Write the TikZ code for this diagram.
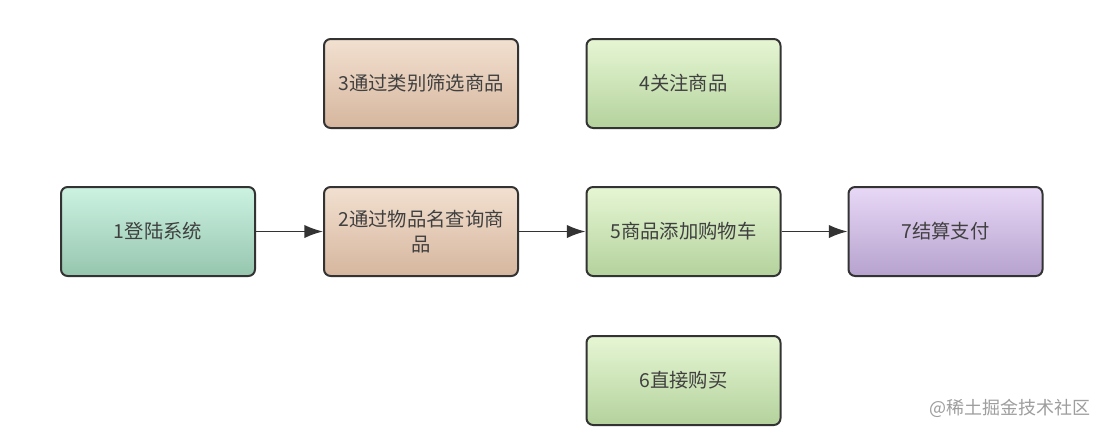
\documentclass[tikz,border=0pt]{standalone}
\usepackage{fontspec}
\newfontfamily\cjk{Noto Sans CJK SC}
\usetikzlibrary{arrows.meta}
\definecolor{tealtop}{HTML}{CCF2E2}
\definecolor{tealbot}{HTML}{96C6AE}
\definecolor{sandtop}{HTML}{F2E0D0}
\definecolor{sandbot}{HTML}{D6B69E}
\definecolor{leaftop}{HTML}{E6F6D4}
\definecolor{leafbot}{HTML}{B4D29C}
\definecolor{lilactop}{HTML}{E8D8F6}
\definecolor{lilacbot}{HTML}{B6A2CE}
\tikzset{
  box/.style={draw=black!80,line width=1.5pt,rounded corners=5pt,
    minimum width=145.5pt,minimum height=66.75pt,inner sep=0pt,
    text=black!75,align=center,font=\cjk\fontsize{14.5}{18.75}\selectfont},
  flow/.style={draw=black!80,line width=1.2pt,-{Latex[length=14pt,width=10pt]}}
}
\begin{document}
\begin{tikzpicture}[x=0.75pt,y=-0.75pt]
\fill[white] (0,0) rectangle (1106,433);
\useasboundingbox (0,0) rectangle (1106,433);
% main row
\node[box,top color=tealtop,bottom color=tealbot] (login) at (158,231.5) {1登陆系统};
\node[box,top color=sandtop,bottom color=sandbot] (byname) at (421,231.5) {2通过物品名查询商\\品};
\node[box,top color=leaftop,bottom color=leafbot] (cart) at (683.5,231.5) {5商品添加购物车};
\node[box,top color=lilactop,bottom color=lilacbot] (pay) at (945.5,231.5) {7结算支付};
% loose boxes
\node[box,top color=sandtop,bottom color=sandbot] (bytype) at (421,83.5) {3通过类别筛选商品};
\node[box,top color=leaftop,bottom color=leafbot] (follow) at (683.5,83.5) {4关注商品};
\node[box,top color=leaftop,bottom color=leafbot] (buy) at (683.5,380.5) {6直接购买};
\foreach \a/\b in {login/byname,byname/cart,cart/pay}{
	\draw[flow] (\a) -- (\b);}
\node[text=black!38,font=\cjk\fontsize{13.5}{16}\selectfont] (mark) at (1010,408) {@稀土掘金技术社区};
\end{tikzpicture}
\end{document}
